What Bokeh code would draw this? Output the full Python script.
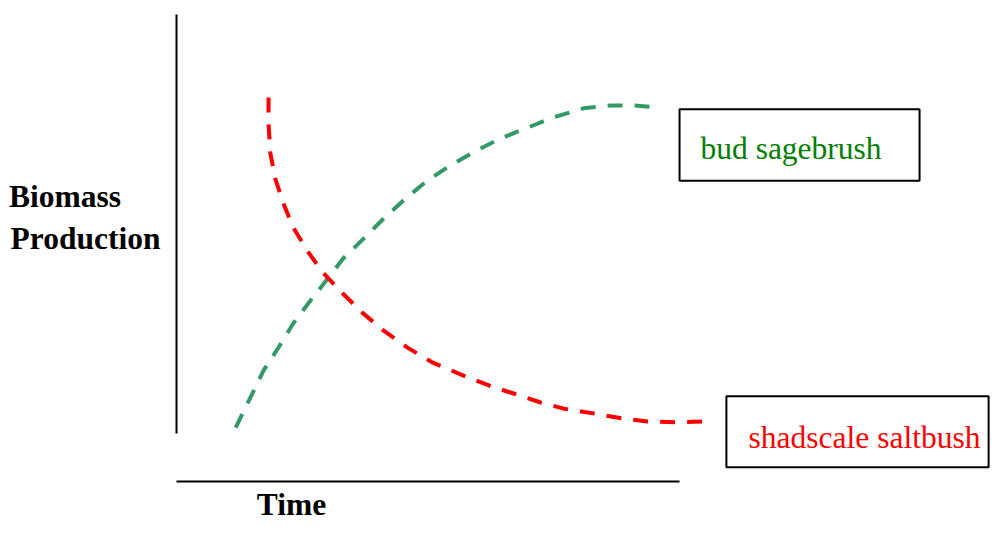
from bokeh.plotting import figure
from bokeh.models import Range1d, Label, BoxAnnotation, FixedTicker
from bokeh.embed import file_html
from bokeh.resources import INLINE

# Conceptual data (time, biomass in relative units)
sage_time = [7.2, 9.0, 10.6, 12.4, 14.2, 16.1, 18.4, 20.3, 22.8, 25.2, 27.6, 30.5,
             33.3, 36.1, 39.4, 42.7, 45.9, 49.5, 52.8, 55.6, 58.5]
sage_biomass = [11.4, 17.8, 23.5, 28.3, 33.4, 37.8, 42.9, 47.2, 51.4, 55.6, 59.4, 63.6,
                66.8, 69.6, 72.5, 74.8, 77.0, 78.9, 79.5, 79.5, 79.1]

shad_time = [11.2, 11.2, 11.4, 12.0, 13.0, 14.2, 15.9, 17.8, 20.2, 22.6, 25.2, 28.1,
             31.1, 34.9, 38.0, 41.0, 44.3, 47.1, 50.7, 54.4, 57.3, 61.0, 64.6, 65.2]
shad_biomass = [81.2, 75.7, 69.6, 64.1, 58.8, 53.7, 48.8, 44.2, 39.8, 35.7, 31.9, 28.3,
                25.2, 22.4, 20.3, 18.6, 16.7, 15.4, 14.4, 13.3, 12.7, 12.5, 12.7, 12.9]

series_names = ["bud sagebrush", "shadscale saltbush"]
y_title_lines = ["Biomass", "Production"]
x_title = "Time"

FONT = "Liberation Serif"
W, H = 990, 524

# left-justify the two title lines (the axis right-aligns its labels)
NBSP = "\u00a0"
y_title = y_title_lines[0] + NBSP * 5 + "\n" + y_title_lines[1]

p = figure(width=W, height=H, output_backend="svg", toolbar_location=None,
           x_range=Range1d(0, 99.03), y_range=Range1d(0, 101.69),
           min_border_left=176, min_border_bottom=43, min_border_top=0, min_border_right=0)
p.title = None
p.outline_line_color = None
p.grid.visible = False
p.background_fill_color = "white"
p.border_fill_color = "white"

for ax in (p.xaxis, p.yaxis):
    ax.major_tick_line_color = None
    ax.minor_tick_line_color = None
    ax.major_tick_out = 0
    ax.major_tick_in = 0
    ax.minor_tick_out = 0
    ax.axis_line_color = "black"
    ax.axis_line_width = 2
    ax.major_label_text_font = FONT
    ax.major_label_text_font_style = "bold"
    ax.major_label_text_font_size = "31.5px"
    ax.major_label_text_color = "black"

# axis titles are rendered as single tick labels so they can sit off-centre
p.yaxis.bounds = (10.15, 98.7)
p.yaxis.ticker = FixedTicker(ticks=[55.8], minor_ticks=[])
p.yaxis.major_label_overrides = {55.8: y_title}
p.yaxis.major_label_standoff = 16

p.xaxis.bounds = (0, 61.2)
p.xaxis.ticker = FixedTicker(ticks=[14.0], minor_ticks=[])
p.xaxis.major_label_overrides = {14.0: x_title}
p.xaxis.major_label_standoff = 5

p.line(sage_time, sage_biomass, line_color="#339966", line_width=4, line_dash="15 12")
p.line(shad_time, shad_biomass, line_color="#FF0000", line_width=4, line_dash="15 12")

p.add_layout(BoxAnnotation(left=61.2, right=90.4, bottom=63.6, top=78.7,
                           fill_color=None, fill_alpha=0, line_color="black",
                           line_alpha=1, line_width=2))
p.add_layout(BoxAnnotation(left=66.9, right=98.8, bottom=3.0, top=18.0,
                           fill_color=None, fill_alpha=0, line_color="black",
                           line_alpha=1, line_width=2))

p.add_layout(Label(x=63.75, y=70.4, text=series_names[0], text_font=FONT,
                   text_font_size="31.5px", text_color="#008000", text_baseline="alphabetic"))
p.add_layout(Label(x=69.6, y=9.3, text=series_names[1], text_font=FONT,
                   text_font_size="31.5px", text_color="#FF0000", text_baseline="alphabetic"))

open("out.html", "w").write(file_html(p, INLINE))
